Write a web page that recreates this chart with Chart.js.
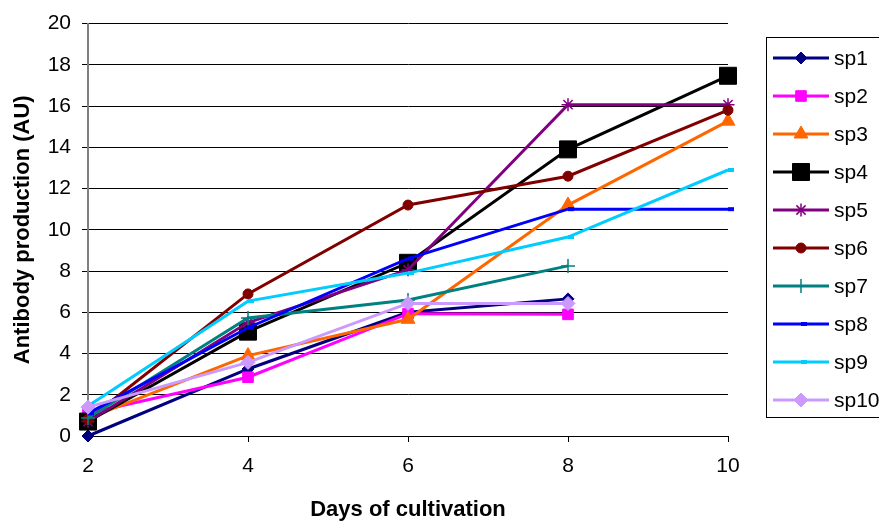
<!DOCTYPE html>
<html>
<head>
<meta charset="utf-8">
<script src="https://cdn.jsdelivr.net/npm/chart.js@4.4.0/dist/chart.umd.min.js"></script>
<style>
  html, body { margin: 0; padding: 0; background: #fff; }
  #wrap { width: 879px; height: 524px; }
</style>
</head>
<body>
<div id="wrap"><canvas id="chart" width="879" height="524"></canvas></div>
<script>
// Donnees
const days = [2, 4, 6, 8, 10];
const seriesNames = ['sp1', 'sp2', 'sp3', 'sp4', 'sp5', 'sp6', 'sp7', 'sp8', 'sp9', 'sp10'];
const sp1 = [0, 3.25, 6.0, 6.65, null];
const sp2 = [1.1, 2.85, 5.93, 5.9, null];
const sp3 = [0.85, 3.9, 5.66, 11.2, 15.27];
const sp4 = [0.7, 5.06, 8.4, 13.9, 17.47];
const sp5 = [0.7, 5.5, 8.06, 16.07, 16.07];
const sp6 = [0.8, 6.89, 11.2, 12.6, 15.8];
const sp7 = [0.87, 5.72, 6.6, 8.25, null];
const sp8 = [1.1, 5.25, 8.6, 11.0, 11.0];
const sp9 = [1.45, 6.54, 7.9, 9.65, 12.9];
const sp10 = [1.4, 3.57, 6.43, 6.43, null];
const yTicks = [0, 2, 4, 6, 8, 10, 12, 14, 16, 18, 20];

const allSeries = [sp1, sp2, sp3, sp4, sp5, sp6, sp7, sp8, sp9, sp10];
const colors = ['#000080', '#FF00FF', '#FF6600', '#000000', '#800080',
                '#800000', '#008080', '#0000FF', '#00CCFF', '#CC99FF'];
const styles = [
  { pointStyle: 'rectRot', radius: 6, bw: 1 },
  { pointStyle: 'rect', radius: 7.5, bw: 1 },
  { pointStyle: 'triangle', radius: 8, bw: 1 },
  { pointStyle: 'rect', radius: 12, bw: 1 },
  { pointStyle: 'star', radius: 6.5, bw: 1.5 },
  { pointStyle: 'circle', radius: 5, bw: 1 },
  { pointStyle: 'cross', radius: 7, bw: 1.5 },
  { pointStyle: 'dash', radius: 6, bw: 4 },
  { pointStyle: 'dash', radius: 6, bw: 4 },
  { pointStyle: 'rectRot', radius: 7, bw: 1 }
];

const FONT = 'Arial, "Liberation Sans", sans-serif';
Chart.defaults.font.family = FONT;
Chart.defaults.font.size = 21;
Chart.defaults.color = '#000';

const datasets = seriesNames.map((name, i) => ({
  label: name,
  data: days.map((d, k) => (allSeries[i][k] === null ? null : { x: d, y: allSeries[i][k] })).filter(p => p),
  borderColor: colors[i],
  backgroundColor: colors[i],
  borderWidth: 3,
  pointStyle: styles[i].pointStyle,
  pointRadius: styles[i].radius,
  pointBorderWidth: styles[i].bw,
  pointBorderColor: colors[i],
  pointBackgroundColor: colors[i],
  tension: 0,
  clip: false,
  order: seriesNames.length - i
}));

// Legende dessinee a la main (ligne + marqueur)
const legendBox = {
  id: 'legendBox',
  afterDraw(chart) {
    const ctx = chart.ctx;
    ctx.save();
    ctx.strokeStyle = '#000';
    ctx.lineWidth = 1;
    ctx.strokeRect(766.5, 37.5, 130, 380);
    chart.data.datasets.forEach((ds, i) => {
      const y = 58 + i * 38;
      ctx.strokeStyle = ds.borderColor;
      ctx.lineWidth = 3;
      ctx.beginPath();
      ctx.moveTo(773, y);
      ctx.lineTo(829, y);
      ctx.stroke();
      ctx.fillStyle = ds.backgroundColor;
      ctx.lineWidth = ds.pointBorderWidth;
      Chart.helpers.drawPoint(ctx, {
        pointStyle: ds.pointStyle,
        radius: ds.pointRadius,
        borderWidth: ds.pointBorderWidth,
        rotation: 0
      }, 801, y);
      ctx.fillStyle = '#000';
      ctx.font = '21px ' + FONT;
      ctx.textBaseline = 'middle';
      ctx.textAlign = 'left';
      ctx.fillText(ds.label, 834, y + 1);
    });
    ctx.restore();
  }
};

new Chart(document.getElementById('chart'), {
  type: 'line',
  data: { datasets },
  options: {
    responsive: false,
    animation: false,
    layout: { padding: { left: 0, top: 20, right: 151, bottom: 0 } },
    plugins: {
      legend: { display: false },
      tooltip: { enabled: false }
    },
    scales: {
      x: {
        type: 'linear',
        min: 2,
        max: 10,
        afterFit: s => { s.height = 88; },
        ticks: { stepSize: 2, padding: 12, font: { size: 21 } },
        grid: { drawOnChartArea: false, drawTicks: true, tickLength: 6, color: '#000' },
        border: { color: '#000', width: 1 },
        title: {
          display: true,
          text: 'Days of cultivation',
          font: { size: 22, weight: 'bold' },
          padding: { top: 0, bottom: 1 }
        }
      },
      y: {
        min: 0,
        max: 20,
        afterFit: s => { s.width = 88; },
        afterBuildTicks: s => { s.ticks = yTicks.map(v => ({ value: v })); },
        ticks: { padding: 11, font: { size: 21 } },
        grid: { color: '#000', lineWidth: 1, tickLength: 6 },
        border: { color: '#808080', width: 2 },
        title: {
          display: true,
          text: 'Antibody production (AU)',
          font: { size: 22, weight: 'bold' },
          padding: { top: 10, bottom: 0 }
        }
      }
    }
  },
  plugins: [legendBox]
});
</script>
</body>
</html>
